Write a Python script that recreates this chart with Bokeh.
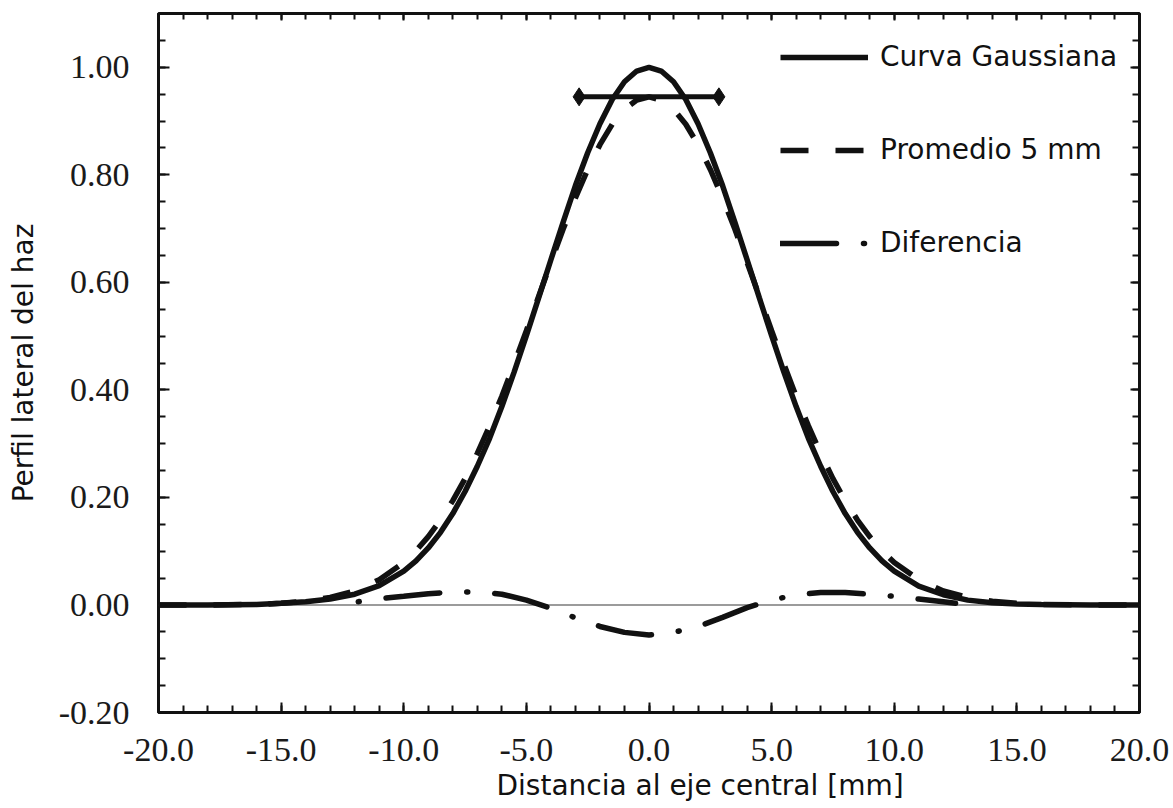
import math
from bokeh.plotting import figure
from bokeh.models import (Range1d, FixedTicker, PrintfTickFormatter, LinearAxis, Span,
                          Legend, LegendItem, Title, CustomJSTickFormatter)
from bokeh.embed import file_html
from bokeh.resources import INLINE

# ---------------- data ----------------
x_pos = [-20, -18, -16, -15, -14, -13, -12, -11, -10, -9.5, -9, -8.5, -8, -7.5, -7, -6.5,
         -6, -5.5, -5, -4.5, -4, -3.5, -3, -2.5, -2, -1.5, -1, -0.5, 0,
         0.5, 1, 1.5, 2, 2.5, 3, 3.5, 4, 4.5, 5, 5.5, 6, 6.5, 7, 7.5, 8, 8.5, 9, 9.5,
         10, 11, 12, 13, 14, 15, 16, 18, 20]

curva_gaussiana = [0.000, 0.000, 0.001, 0.003, 0.006, 0.011, 0.020, 0.036, 0.063, 0.082, 0.106,
                   0.135, 0.170, 0.211, 0.258, 0.310, 0.369, 0.433, 0.501, 0.571, 0.642, 0.712,
                   0.780, 0.841, 0.895, 0.940, 0.973, 0.993, 1.000,
                   0.993, 0.973, 0.940, 0.895, 0.841, 0.780, 0.712, 0.642, 0.571, 0.501, 0.433,
                   0.369, 0.310, 0.258, 0.211, 0.170, 0.135, 0.106, 0.082,
                   0.063, 0.035, 0.019, 0.009, 0.004, 0.002, 0.001, 0.000, 0.000]

promedio_5mm = [0.000, 0.000, 0.001, 0.003, 0.007, 0.014, 0.026, 0.047, 0.079, 0.101, 0.127,
                0.158, 0.194, 0.235, 0.282, 0.333, 0.388, 0.448, 0.510, 0.574, 0.637, 0.699,
                0.757, 0.810, 0.856, 0.894, 0.922, 0.939, 0.945,
                0.939, 0.922, 0.894, 0.856, 0.810, 0.757, 0.699, 0.637, 0.574, 0.510, 0.448,
                0.388, 0.333, 0.282, 0.235, 0.194, 0.158, 0.127, 0.101,
                0.079, 0.047, 0.026, 0.014, 0.007, 0.003, 0.001, 0.000, 0.000]

x_dif = [-12.5, -12, -11, -10, -9, -8, -7, -6, -5, -4, -3, -2, -1, 0,
         1, 2, 3, 4, 5, 6, 7, 8, 9, 10, 11, 12, 12.5]
diferencia = [0.002, 0.005, 0.012, 0.016, 0.021, 0.024, 0.024, 0.020, 0.009, -0.006, -0.024,
              -0.040, -0.051, -0.056, -0.051, -0.040, -0.023, -0.005, 0.009, 0.019, 0.023,
              0.023, 0.020, 0.016, 0.011, 0.006, 0.003]

fwhm_x = [-2.85, 2.85]
fwhm_y = [0.945, 0.945]

x_major = [-20, -15, -10, -5, 0, 5, 10, 15, 20]
x_minor = [-20, -19, -18, -17, -16, -15, -14, -13, -12, -11, -10, -9, -8, -7, -6, -5, -4, -3,
           -2, -1, 0, 1, 2, 3, 4, 5, 6, 7, 8, 9, 10, 11, 12, 13, 14, 15, 16, 17, 18, 19, 20]
y_major = [-0.2, 0.0, 0.2, 0.4, 0.6, 0.8, 1.0]
y_minor = [-0.2, -0.15, -0.1, -0.05, 0.0, 0.05, 0.1, 0.15, 0.2, 0.25, 0.3, 0.35, 0.4, 0.45,
           0.5, 0.55, 0.6, 0.65, 0.7, 0.75, 0.8, 0.85, 0.9, 0.95, 1.0, 1.05]

x_title = "Distancia al eje central [mm]"
y_title = "Perfil lateral del haz"
legend_labels = ["Curva Gaussiana", "Promedio 5 mm", "Diferencia"]

INK = "#111111"

# ---------------- figure ----------------
p = figure(width=1173, height=808, output_backend="svg", toolbar_location=None,
           x_range=Range1d(-20, 20), y_range=Range1d(-0.2, 1.1),
           x_axis_type=None, y_axis_type=None,
           min_border_left=158, min_border_right=34, min_border_top=13, min_border_bottom=96)
p.outline_line_color = INK
p.outline_line_width = 3
p.background_fill_color = "white"
p.border_fill_color = "white"
# off-screen range used only for the legend swatch of the difference curve
p.extra_y_ranges = {"key": Range1d(start=100, end=101)}


def make_axis(major, minor, fmt, show, tick_major, tick_minor):
    if show:
        formatter = PrintfTickFormatter(format=fmt)
    else:
        formatter = CustomJSTickFormatter(code="return ''")
    ax = LinearAxis(ticker=FixedTicker(ticks=major, minor_ticks=minor), formatter=formatter)
    ax.axis_line_color = None
    ax.major_tick_in = tick_major
    ax.major_tick_out = 0
    ax.minor_tick_in = tick_minor
    ax.minor_tick_out = 0
    ax.major_tick_line_color = INK
    ax.minor_tick_line_color = INK
    ax.major_tick_line_width = 2
    ax.minor_tick_line_width = 2
    if show:
        ax.major_label_text_font = "Liberation Serif"
        ax.major_label_text_font_size = "34px"
        ax.major_label_text_color = "#1a1a1a"
    else:
        ax.major_label_standoff = 0
    return ax


xb = make_axis(x_major, x_minor, "%.1f", True, 10, 7)
xb.major_label_standoff = 26
yl = make_axis(y_major, y_minor, "%.2f", True, 11, 7)
yl.major_label_standoff = 29
yl.axis_label = y_title
yl.axis_label_text_font = "DejaVu Sans"
yl.axis_label_text_font_size = "28px"
yl.axis_label_text_font_style = "normal"
yl.axis_label_text_color = INK
yl.axis_label_standoff = 16
xt = make_axis(x_major, x_minor, "%.1f", False, 7, 6)
yr = make_axis(y_major, y_minor, "%.2f", False, 9, 7)
p.add_layout(xb, "below")
p.add_layout(yl, "left")
p.add_layout(xt, "above")
p.add_layout(yr, "right")

# x axis title (placed slightly right of centre, as in the reference)
p.add_layout(Title(text=x_title, align="left", offset=338, vertical_align="top",
                   standoff=10, text_font="DejaVu Sans", text_font_size="28px",
                   text_font_style="normal", text_color=INK), "below")

# zero line
p.add_layout(Span(location=0, dimension="width", line_color="#7a7a7a", line_width=1.5,
                  level="underlay"))

# curves
r_g = p.line(x_pos, curva_gaussiana, line_color=INK, line_width=5.5)
r_p = p.line(x_pos, promedio_5mm, line_color=INK, line_width=5.5, line_dash="28 27")
r_d = p.line(x_dif, diferencia, line_color=INK, line_width=5.5, line_dash="54 27 1 27",
             line_dash_offset=65, line_cap="round")
# legend swatch for the difference curve (same style, pattern starting with the dash);
# mapped to an off-screen range so only its legend entry is seen
r_d_key = p.line(x_dif, diferencia, y_range_name="key", line_color=INK, line_width=5.5,
                 line_dash="56 27 1 27", line_cap="round")

# width arrow with diamond heads
p.line(fwhm_x, fwhm_y, line_color=INK, line_width=5)
p.scatter(fwhm_x, fwhm_y, marker="diamond", size=18, color=INK)

# legend (location = bottom-left corner, pixels from the frame's bottom-left)
legend = Legend(items=[LegendItem(label=legend_labels[0], renderers=[r_g]),
                       LegendItem(label=legend_labels[1], renderers=[r_p]),
                       LegendItem(label=legend_labels[2], renderers=[r_d_key])],
                location=(622, 453), glyph_width=88, glyph_height=30, label_height=30,
                label_standoff=12, spacing=60, padding=0, margin=0,
                border_line_color=None, background_fill_alpha=0,
                label_text_font="DejaVu Sans", label_text_font_size="28px",
                label_text_color=INK)
p.add_layout(legend)

open("out.html", "w").write(file_html(p, INLINE))
